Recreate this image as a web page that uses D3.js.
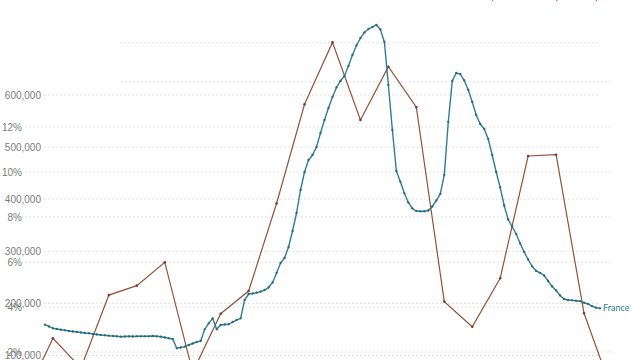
<!DOCTYPE html>
<html><head><meta charset="utf-8">
<script src="https://cdn.jsdelivr.net/npm/d3@7"></script>
<style>
html,body{margin:0;padding:0;background:#fff;}
svg{display:block;font-family:Lato,"Noto Sans",sans-serif;}
</style></head>
<body>
<svg id="chart" width="640" height="360"></svg>
<script>
// ---- data ----
// daily cases (7-day average), France, day index 5..144
const caseStartDay = 5;
const franceCases = [
159.1,155.7,152.2,150.9,149.5,148.4,147.0,146.1,145.1,144.1,
143.2,142.6,141.3,140.3,139.3,138.8,138.0,137.4,136.9,136.1,
136.5,136.9,136.5,136.9,136.9,136.9,136.9,137.4,136.9,136.1,
134.6,133.0,131.7,113.8,115.4,116.9,120.2,123.0,125.9,127.8,
150.3,161.8,171.4,150.3,158.5,159.5,159.9,164.3,168.1,171.4,
206.5,218.0,219.0,220.5,222.5,225.7,230.5,240.1,258.4,277.5,
287.1,308.3,339.0,373.5,417.7,452.2,475.2,484.8,500.2,527.1,
552.0,575.1,596.2,614.4,626.9,636.5,655.7,676.8,695.0,709.4,
720.0,726.7,730.5,734.4,725.7,701.7,619.2,532.8,454.1,433.6,
411.3,393.7,382.2,377.4,376.8,376.8,378.3,386.0,397.5,410.0,
446.5,548.2,626.9,642.2,640.3,627.8,609.6,586.6,561.6,544.3,
534.8,515.6,484.8,452.2,422.5,387.9,361.0,347.6,333.2,315.0,
298.7,284.3,271.2,262.2,258.4,253.6,243.0,232.4,224.8,215.2,
208.4,206.5,205.9,205.2,204.2,201.3,198.9,194.6,191.7,190.6
]; // thousands
// weekly test positivity (%), day index 0,7,...,147
const positivityStep = 7;
const positivity = [0.0,2.61,1.29,4.53,4.95,5.99,1.11,3.70,4.71,8.60,13.01,15.76,12.31,14.68,12.88,4.24,3.12,5.28,10.71,10.77,3.72,0.27];
const caseTicks = [100000,200000,300000,400000,500000,600000,700000];
const pctTicks = [2,4,6,8,10,12,14];
const seriesLabel = "France";

// ---- layout ----
const svg = d3.select("#chart");
const teal = "#2f7d95", brown = "#935238", grid = "#e2e2e2", labelCol = "#7a7a7a";

const x = d3.scaleLinear().domain([0, 147]).range([25, 612]);
const yCases = d3.scaleLinear().domain([0, 700000]).range([407.6, 42.9]);
const yPct = d3.scaleLinear().domain([0, 16]).range([397, 37]);

const gGrid = svg.append("g");
const caseAxis = d3.axisLeft(yCases).tickValues(caseTicks).tickSize(0).tickFormat(d3.format(","));
const gc = svg.append("g").attr("transform","translate(41,0)").call(caseAxis);
gc.select(".domain").remove();
gc.selectAll("text").attr("fill",labelCol).style("font-size","10px").attr("x",0);
gGrid.selectAll("line.c").data(caseTicks).join("line")
  .attr("x1",44).attr("x2",600)
  .attr("y1",d=>yCases(d)).attr("y2",d=>yCases(d))
  .attr("stroke",grid).attr("stroke-dasharray","2,2");
const pctAxis = d3.axisLeft(yPct).tickValues(pctTicks).tickSize(0).tickFormat(d=>d+"%");
const gp = svg.append("g").attr("transform","translate(22,0)").call(pctAxis);
gp.select(".domain").remove();
gp.selectAll("text").attr("fill",labelCol).style("font-size","10px").attr("x",0);
gGrid.selectAll("line.p").data(pctTicks).join("line")
  .attr("x1",25).attr("x2",613)
  .attr("y1",d=>yPct(d)).attr("y2",d=>yPct(d))
  .attr("stroke",grid).attr("stroke-dasharray","2,2");

// white legend-area box covering upper left
svg.append("rect").attr("x",0).attr("y",0).attr("width",119).attr("height",88).attr("fill","#fff");

// partial header text (cut off at top)
svg.append("text").attr("x",600).attr("y",-1).attr("text-anchor","end")
  .attr("fill","#c0392b").style("font-size","11px").text("Daily cases · Test positivity");

// positivity line (weekly)
const pctData = positivity.map((v,i)=>({d:i*positivityStep, v}));
svg.append("path").datum(pctData)
  .attr("fill","none").attr("stroke",brown).attr("stroke-width",1.2)
  .attr("d", d3.line().x(d=>x(d.d)).y(d=>yPct(d.v)));
svg.selectAll("circle.p").data(pctData).join("circle")
  .attr("cx",d=>x(d.d)).attr("cy",d=>yPct(d.v)).attr("r",1.3).attr("fill","#74402c");

// cases line (daily)
const caseData = franceCases.map((v,i)=>({d:caseStartDay+i, v:v*1000}));
svg.append("path").datum(caseData)
  .attr("fill","none").attr("stroke",teal).attr("stroke-width",1.4)
  .attr("d", d3.line().x(d=>x(d.d)).y(d=>yCases(d.v)));
svg.selectAll("circle.c").data(caseData).join("circle")
  .attr("cx",d=>x(d.d)).attr("cy",d=>yCases(d.v)).attr("r",1.15).attr("fill","#25667a");

const last = caseData[caseData.length-1];
svg.append("text").attr("x",x(last.d)+3).attr("y",yCases(last.v)).attr("dy","0.35em")
  .attr("fill",teal).style("font-size","9px").text(seriesLabel);
</script>
</body></html>
